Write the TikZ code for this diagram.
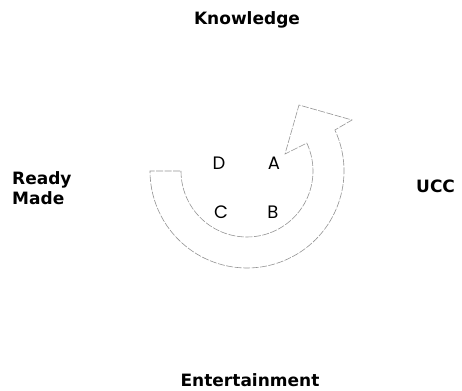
\documentclass[tikz,border=0pt]{standalone}
\usepackage{fontspec}
\setmainfont{DejaVu Sans}
\newfontfamily\quadfont{Poppins}
\usetikzlibrary{positioning}

\begin{document}
\begin{tikzpicture}[
    x=1pt, y=1pt,
    axislabel/.style={font=\bfseries\fontsize{17}{20}\selectfont, inner sep=0pt},
    quadlabel/.style={font=\quadfont\fontsize{18}{20}\selectfont, inner sep=0pt},
    flow/.style={draw=gray!85, line width=0.6pt, dash pattern=on 7pt off 1.5pt}
]
\useasboundingbox (0,0) rectangle (462,390);

% Axis labels
\node[axislabel, anchor=base] (knowledge) at (247,365) {Knowledge};
\node[axislabel, anchor=base] (entertainment) at (250,4) {Entertainment};
\node[axislabel, anchor=west, align=left] (readymade) at (12,202) {Ready\\Made};
\node[axislabel, anchor=base west] (ucc) at (416,197) {UCC};

% Quadrants
\node[quadlabel] (qa) at (274,227) {A};
\node[quadlabel] (qb) at (273,178) {B};
\node[quadlabel] (qc) at (221,178) {C};
\node[quadlabel] (qd) at (219,227) {D};

% Curved arrow
\draw[flow] (181,219) arc[start angle=180, end angle=385, radius=66]
    -- (285,236) -- (299,285) -- (352,270) -- (334.9,260)
    arc[start angle=25, end angle=-180, radius=97] -- cycle;

\end{tikzpicture}
\end{document}
